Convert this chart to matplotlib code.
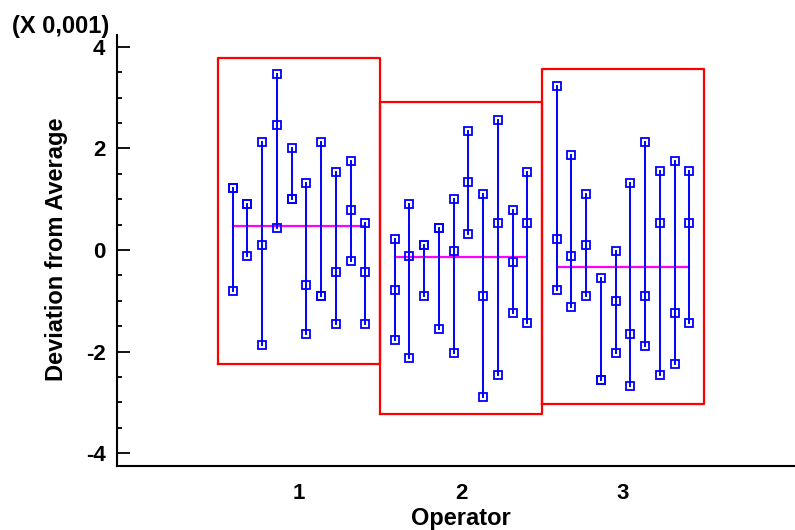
import matplotlib
matplotlib.use("Agg")
import matplotlib.pyplot as plt
import numpy as np

plt.rcParams['font.family'] = ['Liberation Sans', 'DejaVu Sans']
plt.rcParams['font.weight'] = 'bold'

operators = [1, 2, 3]
operator_labels = ["1", "2", "3"]

# deviations (x 0.001), 10 parts x 3 trials per operator
op1 = [[1.22, -0.80, 1.22], [0.90, -0.11, 0.90], [2.12, 0.10, -1.87],
       [3.46, 2.45, 0.43], [2.01, 1.00, 1.00], [1.32, -0.69, -1.66],
       [2.12, -0.90, -0.90], [1.54, -0.44, -1.45], [1.76, 0.79, -0.22],
       [0.54, -0.44, -1.45]]
op2 = [[0.21, -0.79, -1.77], [0.90, -0.11, -2.13], [0.10, -0.90, 0.10],
       [0.43, -1.55, 0.43], [1.00, -0.01, -2.03], [2.34, 1.33, 0.31],
       [1.11, -0.91, -2.89], [2.55, 0.54, -2.45], [0.79, -0.23, -1.23],
       [1.54, 0.54, -1.44]]
op3 = [[3.23, 0.21, -0.79], [1.86, -0.11, -1.12], [1.11, 0.10, -0.90],
       [-0.55, -2.56, -2.56], [-0.01, -1.01, -2.02], [1.32, -1.66, -2.67],
       [2.12, -0.90, -1.88], [1.55, 0.54, -2.45], [1.76, -1.23, -2.24],
       [1.55, 0.54, -1.44]]
data = [op1, op2, op3]

box_top = [3.78, 2.91, 3.56]
box_bottom = [-2.24, -3.23, -3.03]

W, H = 795, 530
fig = plt.figure(figsize=(W / 100, H / 100), dpi=100)
left_px, right_px, top_px, bot_px = 117.3, 795, 35, 466
ax = fig.add_axes([left_px / W, (H - bot_px) / H, (right_px - left_px) / W, (bot_px - top_px) / H])

blue = (0, 0, 1)
for op, vals, bt, bb in zip(operators, data, box_top, box_bottom):
    n = len(vals)
    xs = [op - 0.5 + (k + 1) / (n + 1) for k in range(n)]
    for x, v in zip(xs, vals):
        ax.plot([x, x], [min(v), max(v)], color=blue, lw=1.4, zorder=3)
        ax.plot([x] * len(v), v, linestyle='none', marker='s', ms=6,
                mfc='none', mec=blue, mew=1.3, zorder=4)
    mean = np.mean(np.array(vals))
    ax.plot([xs[0], xs[-1]], [mean, mean], color=(1, 0, 1), lw=1.6, zorder=2)
    ax.plot([op - 0.5, op + 0.5, op + 0.5, op - 0.5, op - 0.5],
            [bb, bb, bt, bt, bb], color=(1, 0, 0), lw=1.6, zorder=2)

ax.set_xlim(1 - (299 - left_px) / 162, 3 + (right_px - 623) / 162)
ax.set_ylim(-4.25, 4.23)

ax.spines['top'].set_visible(False)
ax.spines['right'].set_visible(False)
for s in ['left', 'bottom']:
    ax.spines[s].set_linewidth(1.5)
    ax.spines[s].set_color('black')

ax.set_yticks([-4, -2, 0, 2, 4])
ax.set_yticks(np.arange(-4, 4.01, 0.5), minor=True)
ax.set_yticklabels(["-4", "-2", "0", "2", "4"])
ax.tick_params(axis='y', which='major', direction='in', length=9.4, width=1.3,
               pad=8.5, labelsize=16)
ax.tick_params(axis='y', which='minor', direction='in', length=3.8, width=1.3)
ax.set_xticks(operators)
ax.set_xticklabels(operator_labels)
ax.tick_params(axis='x', length=0, pad=12.5, labelsize=16)
for lab in ax.get_xticklabels() + ax.get_yticklabels():
    lab.set_fontweight('bold')

fig.text(57 / W, 1 - 249 / H, "Deviation from Average", rotation=90,
         ha='center', va='center', fontsize=17, fontweight='bold')
fig.text(461 / W, (H - 524.5) / H, "Operator", ha='center', va='baseline',
         fontsize=17, fontweight='bold')
fig.text(11.7 / W, (H - 33) / H, "(X 0,001)", ha='left', va='baseline',
         fontsize=17, fontweight='bold')

fig.savefig("out.png", dpi=100)
